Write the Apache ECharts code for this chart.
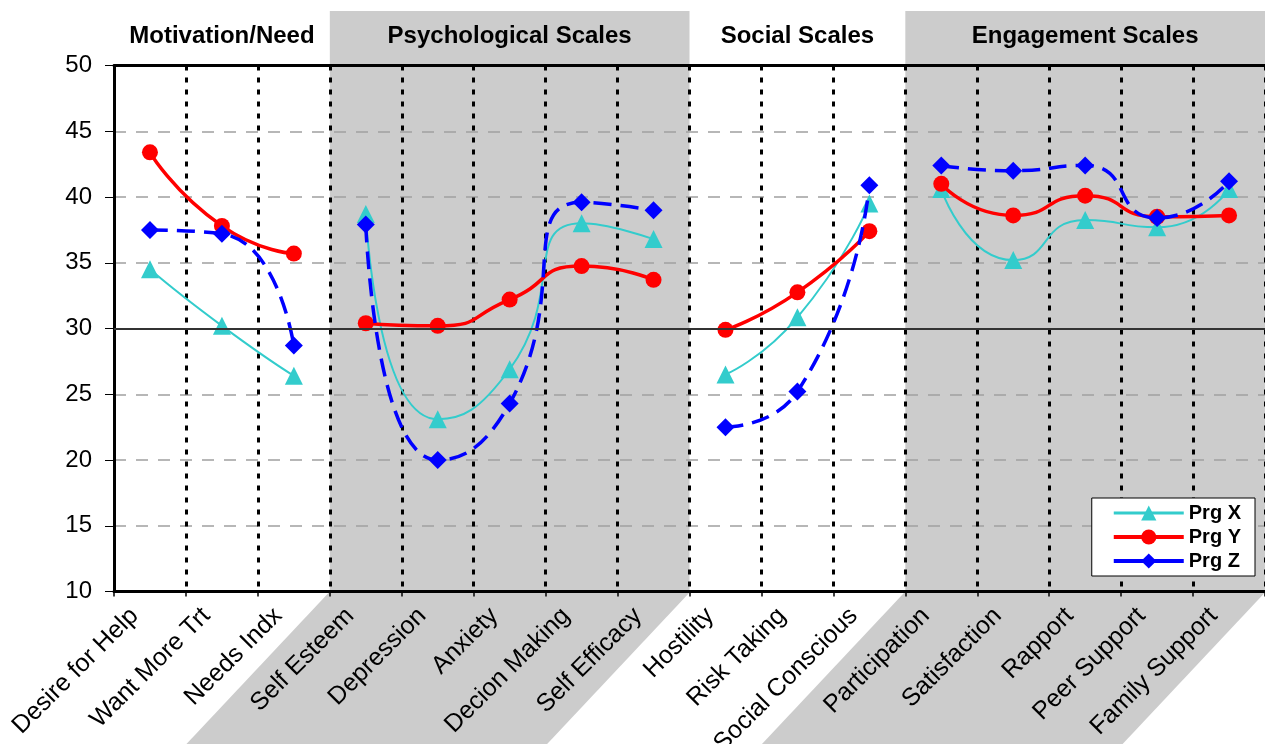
<!DOCTYPE html>
<html><head><meta charset="utf-8">
<script src="https://cdn.jsdelivr.net/npm/echarts@6/dist/echarts.min.js"></script>
<style>html,body{margin:0;padding:0;background:#fff}#c{width:1265px;height:744px}</style>
</head><body><div id="c"></div>
<script>
const categories = ['Desire for Help','Want More Trt','Needs Indx','Self Esteem','Depression','Anxiety','Decion Making','Self Efficacy','Hostility','Risk Taking','Social Conscious','Participation','Satisfaction','Rapport','Peer Support','Family Support'];
const groupNames = ['Motivation/Need','Psychological Scales','Social Scales','Engagement Scales'];
const groupSizes = [3,5,3,5];
const groupShaded = [false,true,false,true];
const seriesNames = ['Prg X','Prg Y','Prg Z'];
const prgX = [34.5,30.2,26.4, 38.7,23.1,26.9,38.0,36.8, 26.5,30.85,39.5, 40.6,35.2,38.25,37.7,40.6];
const prgY = [43.4,37.8,35.7, 30.4,30.2,32.2,34.75,33.7, 29.9,32.75,37.4, 41.0,38.6,40.1,38.5,38.6];
const prgZ = [37.5,37.2,28.7, 37.9,20.0,24.3,39.6,39.0, 22.5,25.2,40.9, 42.4,42.0,42.4,38.4,41.2];
const yMin = 10, yMax = 50, yInterval = 5, refLine = 30;

const FONT = '"Liberation Sans", Arial, sans-serif';
const styles = [
  {color:'#33CCCC', symbol:'triangle', size:18, line:{width:2, type:'solid'}},
  {color:'#FF0000', symbol:'circle', size:16, line:{width:3.5, type:'solid'}},
  {color:'#0000FF', symbol:'diamond', size:18, line:{width:3.5, type:[18,9]}}
];
const values = [prgX, prgY, prgZ];

function segment(arr, g){
  let start = 0;
  for (let i=0;i<g;i++) start += groupSizes[i];
  return arr.map((v,i)=> (i>=start && i<start+groupSizes[g]) ? v : null);
}

const series = [{
  type:'line', name:'ref', data:[], z:1, silent:true,
  markLine:{silent:true, symbol:'none', label:{show:false}, animation:false,
    lineStyle:{color:'#333', width:2, type:'solid'}, data:[{yAxis:refLine}]}
}];
values.forEach((arr,k)=>{
  groupSizes.forEach((n,g)=>{
    series.push({
      type:'line', name:seriesNames[k], data:segment(arr,g),
      smooth:0.6, connectNulls:false, z:2+k,
      symbol:styles[k].symbol, symbolSize:styles[k].size,
      itemStyle:{color:styles[k].color},
      lineStyle:{color:styles[k].color, width:styles[k].line.width, type:styles[k].line.type}
    });
  });
});

const chart = echarts.init(document.getElementById('c'));
chart.setOption({
  animation:false,
  grid:{left:114, right:0, top:65.5, bottom:152.5, containLabel:false, outerBoundsMode:'none'},
  legend:{
    data:[
      {name:'Prg X', lineStyle:{width:3}},
      {name:'Prg Y', lineStyle:{width:4}},
      {name:'Prg Z', lineStyle:{type:'solid', width:4}}
    ],
    orient:'vertical', right:10, bottom:168,
    backgroundColor:'#fff', borderColor:'#000', borderWidth:1, borderRadius:0,
    padding:[5,14,5,20], itemWidth:70, itemHeight:19, itemGap:4,
    textStyle:{fontSize:20, fontWeight:'bold', color:'#000', fontFamily:FONT}
  },
  xAxis:[{
    type:'category', data:categories, boundaryGap:true, position:'bottom',
    axisLine:{show:true, lineStyle:{color:'#000', width:3}},
    axisTick:{show:true, interval:0, length:5, lineStyle:{color:'#000', width:1.5}},
    axisLabel:{interval:0, rotate:45, fontSize:25, color:'#000', fontFamily:FONT, margin:5, padding:[0,22,0,0]},
    splitLine:{show:true, interval:0, lineStyle:{color:'#000', width:3, type:[5,7]}}
  },{
    type:'category', data:categories, boundaryGap:true, position:'top',
    axisLine:{show:true, lineStyle:{color:'#000', width:3}},
    axisTick:{show:false}, axisLabel:{show:false}, splitLine:{show:false}
  }],
  yAxis:{
    type:'value', min:yMin, max:yMax, interval:yInterval,
    axisLine:{show:true, lineStyle:{color:'#000', width:3}},
    axisTick:{show:true, length:9, lineStyle:{color:'#000', width:1}},
    axisLabel:{fontSize:24, color:'#000', fontFamily:FONT, margin:22},
    splitLine:{show:true, lineStyle:{color:'#A0A0A0', width:1.5, type:[12,10]}}
  },
  series:series
});

function drawDecor(){
  const c0 = chart.convertToPixel({xAxisIndex:0}, categories[0]);
  const c1 = chart.convertToPixel({xAxisIndex:0}, categories[1]);
  const w = c1 - c0;
  const yTop = chart.convertToPixel({yAxisIndex:0}, yMax);
  const yBot = chart.convertToPixel({yAxisIndex:0}, yMin);
  const H = chart.getHeight();
  const headTop = 11;
  const slant = 0.94;
  const els = [];
  let start = 0;
  groupSizes.forEach((n,g)=>{
    const x0 = chart.convertToPixel({xAxisIndex:0}, categories[start]) - w/2;
    const x1 = chart.convertToPixel({xAxisIndex:0}, categories[start+n-1]) + w/2;
    if (groupShaded[g]) {
      els.push({type:'rect', z:-10, silent:true,
        shape:{x:x0, y:headTop, width:x1-x0, height:yBot-headTop}, style:{fill:'#CCCCCC'}});
      const d = (H - yBot) * slant;
      els.push({type:'polygon', z:-10, silent:true,
        shape:{points:[[x0,yBot],[x1+1,yBot],[x1+1-d,H],[x0-d,H]]}, style:{fill:'#CCCCCC'}});
    }
    els.push({type:'text', z:10, silent:true, x:(x0+x1)/2, y:(headTop+yTop)/2 - 2,
      style:{text:groupNames[g], font:'bold 24px ' + FONT, fill:'#000', align:'center', verticalAlign:'middle'}});
    start += n;
  });
  chart.setOption({graphic:els});
}
drawDecor();
</script>
</body></html>
